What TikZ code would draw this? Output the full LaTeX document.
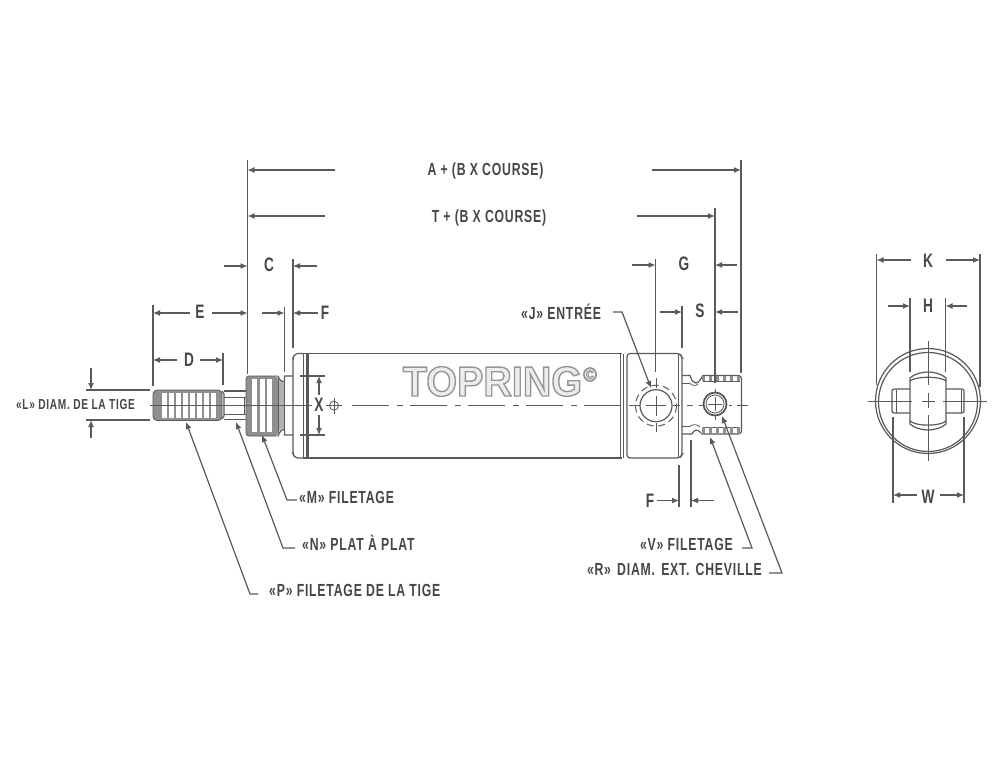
\documentclass[tikz,border=0pt]{standalone}
\usepackage{fontspec}
\usetikzlibrary{arrows.meta}
\newfontfamily\labfamily[FakeStretch=0.70,LetterSpace=4.5,BoldFont={Liberation Sans Bold}]{Liberation Sans}
\newfontfamily\logofamily[FakeStretch=0.94,BoldFont={Liberation Sans Bold}]{Liberation Sans}
\definecolor{ink}{HTML}{5A5A5C}
\definecolor{txt}{HTML}{47474A}
\definecolor{thr}{HTML}{8F8F91}
\definecolor{logofill}{HTML}{ECEDED}
\newcommand{\logotext}[2]{{\color{logofill}\special{pdf:code 2 Tr #1 w 0.58 0.59 0.60 RG}#2\special{pdf:code 0 Tr}}}
\tikzset{
  lab/.style={font=\labfamily\bfseries\fontsize{17.5}{19}\selectfont, text=txt, inner sep=0pt},
  smalllab/.style={font=\labfamily\bfseries\fontsize{14.5}{16}\selectfont, text=txt, inner sep=0pt},
  letter/.style={font=\labfamily\bfseries\fontsize{19.5}{21}\selectfont, text=txt, inner sep=0pt},
  ln/.style={draw=ink, line width=1.2pt},
  thin line/.style={draw=ink, line width=.8pt},
  ext/.style={draw=ink, line width=1.2pt},
  dimarrow/.style={draw=ink, line width=1.2pt, -{Latex[length=7pt,width=6pt]}},
  leader/.style={draw=ink, line width=1.2pt, -{Latex[length=7pt,width=6pt]}},
  center line/.style={draw=ink, line width=1pt},
  centre dash/.style={draw=ink, line width=1.2pt, dash pattern=on 37pt off 8pt on 6pt off 7pt},
}
\newcommand{\dimA}[3]{\coordinate (#1s) at #2;\coordinate (#1e) at #3;\draw[dimarrow] (#1s) -- (#1e);}
\newcommand{\extL}[3]{\coordinate (#1s) at #2;\coordinate (#1e) at #3;\draw[ext] (#1s) -- (#1e);}
\begin{document}
\begin{tikzpicture}[x=1pt,y=-1pt]
\useasboundingbox (0,0) rectangle (1000,762);
\fill[white] (0,0) rectangle (1000,762);

% ---------- rod thread
\fill[thr,rounded corners=4pt] (153,390) rectangle (222,420.5);
\foreach \x in {162,169,176,183,190,197,204,211}
  \fill[white] (\x,393) rectangle ++(4.5,24.5);
\draw[thin line,rounded corners=4pt] (153,390) rectangle (222,420.5);
% flats
\draw[ln] (222,391) -- (224,394) -- (224,416) -- (222,419);
\draw[ln] (224,391) -- (246,391) (224,419.5) -- (246,419.5);
\draw[thin line] (224,397) -- (246,397) (224,414) -- (246,414) (244.5,397) -- (244.5,414);
% gland thread
\fill[thr,rounded corners=3pt] (246,376) rectangle (278,436);
\foreach \x in {252,259.5,267}
  \fill[white] (\x,379) rectangle ++(5,53);
\fill[thr!70] (278,380) -- (284,383) -- (284,428) -- (278,431) -- cycle;
\draw[thin line,rounded corners=3pt] (278,376) -- (246,376) -- (246,436) -- (278,436);
\draw[ln] (278,376) .. controls (280,381) and (282,382) .. (284.5,382) -- (284.5,376) -- (293,376);
\draw[ln] (278,436) .. controls (280,431) and (282,429) .. (284.5,429) -- (284.5,435) -- (293,435);
\draw[thin line] (284.5,382) -- (284.5,429);
\draw[thin line] (278,379) -- (278,433);
% flange
\draw[ln,rounded corners=3pt] (303,353.5) -- (295,353.5) -- (293,358) -- (293,454) -- (295,458) -- (303,458);
\draw[thin line] (303.5,353.5) -- (303.5,458) (306,354) -- (306,458);
\draw[ln] (308,354) -- (308,458);
% barrel
\draw[ln] (303,353.5) -- (622,353.5) (303,458) -- (622,458);
% grooves & cap
\draw[thin line] (620.5,354) -- (620.5,458) (623.5,354) -- (623.5,458);
\draw[ln,rounded corners=3pt] (627,458) -- (627,353.5) -- (680,353.5) -- (682,357) -- (682,455) -- (680,458) -- cycle;
\draw[thin line] (678.5,354) -- (678.5,458);
% clevis
\draw[ln] (682,375.5) -- (690,375.5) .. controls (692,381) and (693,383) .. (696,383) .. controls (699,383) and (701,378) .. (703,375.5);
\draw[thin line] (682,383.5) -- (690,383.5) .. controls (692,386) and (697,386) .. (698,384);
\draw[ln] (682,434) -- (692,434) .. controls (694,430) and (697,428) .. (701,433) ;
\draw[thin line] (682,426.5) -- (690,426.5) .. controls (692,424) and (697,424) .. (700,427);
\draw[ln,rounded corners=3pt] (703,375.5) -- (741.5,375.5) -- (741.5,434) -- (701,434);
\draw[thin line] (703,381) -- (740,381) (703,427) -- (740,427);
\foreach \x in {702,709,716,723,730,737} {
  \fill[thr] (\x,376) rectangle ++(2.5,5);
  \fill[thr] (\x,427) rectangle ++(2.5,6.5);
}
% port
\draw[ln] (656,405.7) circle (16);
\draw[draw=ink,line width=1pt,dash pattern=on 7pt off 4.5pt] (656,405.7) circle (20.5);
\draw[center line] (646,405.7) -- (666,405.7) (656,396) -- (656,416);
\draw[center line] (656,378) -- (656,388) (656,423) -- (656,432) (630,405.7) -- (640,405.7);
% pin
\draw[draw=ink,line width=1.8pt] (715,404) circle (11.5);
\draw[thin line] (715,404) circle (9);
\draw[center line] (708,404) -- (722,404) (715,397) -- (715,411) (715,389) -- (715,393) (715,415) -- (715,420);
% centre lines
\coordinate (cl1) at (150,405.5); \coordinate (cl2) at (312,405.5);
\coordinate (cl3) at (352,405.5); \coordinate (cl4) at (630,405.5);
\draw[center line] (cl1) -- (cl2);
\draw[centre dash] (cl3) -- (cl4);
\draw[center line] (673,405) -- (680,405) (687,405) -- (693,405) (699,405) -- (704,405) (729,405) -- (732,405) (737,405) -- (748,405);

% ---------- logo
\node[inner sep=0pt,anchor=center] (logo) at (492.5,381.5) {\logofamily\bfseries\fontsize{42}{42}\selectfont\logotext{1.4}{TOPRING}};
\node[inner sep=0pt] (logoc) at (590,374.5) {\logofamily\bfseries\fontsize{20}{20}\selectfont\logotext{.8}{©}};

% ---------- extension lines
\extL{xa}{(247.5,160)}{(247.5,374)}
\extL{xb}{(741,160)}{(741,373)}
\extL{xc}{(715,208)}{(715,383)}
\extL{xd}{(293,259)}{(293,348)}
\extL{xe}{(284.5,307)}{(284.5,372)}
\extL{xf}{(153,305)}{(153,386)}
\extL{xg}{(223,353)}{(223,385)}
\extL{xh}{(655.5,259)}{(655.5,372)}
\extL{xi}{(682,306)}{(682,348)}
\extL{xj}{(679,465)}{(679,507)}
\extL{xk}{(691,440)}{(691,507)}
\extL{xl}{(86,390)}{(150,390)}
\extL{xm}{(86,420)}{(150,420)}
\extL{xn}{(300,376)}{(325,376)}
\extL{xo}{(300,435)}{(325,435)}
\extL{xp}{(876.5,254)}{(876.5,385)}
\extL{xq}{(980,254)}{(980,387)}
\extL{xr}{(910,298)}{(910,372)}
\extL{xs}{(945.5,298)}{(945.5,372)}
\extL{xt}{(893,417)}{(893,503)}
\extL{xu}{(964,417)}{(964,503)}

% ---------- dimension arrows
\dimA{a1}{(335,170)}{(247.5,170)}
\dimA{a2}{(652,170)}{(741,170)}
\dimA{t1}{(325,216)}{(247.5,216)}
\dimA{t2}{(637,216)}{(715,216)}
\dimA{c1}{(224,266)}{(247.5,266)}
\dimA{c2}{(317,266)}{(293,266)}
\dimA{e1}{(190,313)}{(153,313)}
\dimA{e2}{(212,313)}{(247.5,313)}
\dimA{f1}{(262,313)}{(284.5,313)}
\dimA{f2}{(318,313)}{(293,313)}
\dimA{d1}{(177,360)}{(153,360)}
\dimA{d2}{(200,360)}{(223,360)}
\dimA{l1}{(91,368)}{(91,390)}
\dimA{l2}{(91,438)}{(91,420)}
\dimA{x1}{(319,395)}{(319,376)}
\dimA{x2}{(319,415)}{(319,435)}
\dimA{g1}{(632,265)}{(655.5,265)}
\dimA{g2}{(737,265)}{(715,265)}
\dimA{s1}{(660,312)}{(682,312)}
\dimA{s2}{(738,312)}{(715,312)}
\dimA{b1}{(657,500.5)}{(679,500.5)}
\dimA{b2}{(714,500.5)}{(691,500.5)}
\dimA{k1}{(911,260)}{(876.5,260)}
\dimA{k2}{(946,260)}{(980,260)}
\dimA{h1}{(888,306)}{(910,306)}
\dimA{h2}{(967,306)}{(945.5,306)}
\dimA{w1}{(917,495)}{(893,495)}
\dimA{w2}{(940,495)}{(964,495)}

% ---------- X symbol
\draw[thin line] (334,405.7) circle (4.5);
\draw[thin line] (326,405.7) -- (342,405.7) (334,398) -- (334,414);

% ---------- end view
\draw[ln] (928,401) circle (52.5);
\draw[ln] (928,402) circle (49.5);
\draw[ln,fill=white] (910,378) .. controls (914,374) and (922,372) .. (928,372) .. controls (934,372) and (942,374) .. (946,378) -- (946,424) .. controls (942,428) and (934,430) .. (928,430) .. controls (922,430) and (914,428) .. (910,424) -- cycle;
\draw[ln] (910,381) .. controls (916,376) and (940,376) .. (946,381);
\draw[ln] (910,421) .. controls (916,426.5) and (940,426.5) .. (946,421);
\draw[ln,rounded corners=2pt] (910,389) -- (892,389) -- (892,413) -- (910,413);
\draw[thin line] (896,389.5) -- (896,412.5);
\draw[ln,rounded corners=2pt] (946,389) -- (964,389) -- (964,413) -- (946,413);
\draw[thin line] (961,389.5) -- (961,412.5);
\draw[center line] (868,401) -- (912,401) (922,401) -- (935,401) (943,401) -- (987,401);
\draw[center line] (928,341) -- (928,385) (928,393) -- (928,408) (928,415) -- (928,461);

% ---------- leaders
\coordinate (jh) at (613,312); \coordinate (je) at (622,312); \coordinate (jt) at (651,388);
\draw[leader] (jh) -- (je) -- (jt);
\coordinate (mh) at (297,500); \coordinate (me) at (287,500); \coordinate (mt) at (262,435);
\draw[leader] (mh) -- (me) -- (mt);
\coordinate (nh) at (295,548); \coordinate (ne) at (283,548); \coordinate (nt) at (236,422);
\draw[leader] (nh) -- (ne) -- (nt);
\coordinate (ph) at (258,594); \coordinate (pe) at (250,594); \coordinate (pt) at (186,422);
\draw[leader] (ph) -- (pe) -- (pt);
\coordinate (vh) at (742,548); \coordinate (ve) at (752,548); \coordinate (vt) at (710,437);
\draw[leader] (vh) -- (ve) -- (vt);
\coordinate (rh) at (769,573); \coordinate (re) at (782,573); \coordinate (rt) at (722,416);
\draw[leader] (rh) -- (re) -- (rt);

% ---------- labels
\node[lab] (ta) at (485.5,171) {A + (B X COURSE)};
\node[lab] (tt) at (489,218) {T + (B X COURSE)};
\node[letter] (tc) at (269,265) {C};
\node[letter] (tf) at (325,313) {F};
\node[letter] (te) at (200,312) {E};
\node[letter] (td) at (189,360) {D};
\node[letter] (tx) at (319,405) {X};
\node[letter] (tg) at (684,264) {G};
\node[letter] (ts) at (700,311) {S};
\node[letter] (tb) at (650,501) {F};
\node[letter] (tk) at (928,261) {K};
\node[letter] (th) at (928,306) {H};
\node[letter] (tw) at (928,497) {W};
\node[lab,anchor=west] (tj) at (521,312) {«J» ENTRÉE};
\node[smalllab,anchor=west] (tl) at (16,405) {«L» DIAM. DE LA TIGE};
\node[lab,anchor=west] (tm) at (299,497) {«M» FILETAGE};
\node[lab,anchor=west] (tn) at (302,543) {«N» PLAT À PLAT};
\node[lab,anchor=west] (tp) at (269,590) {«P» FILETAGE DE LA TIGE};
\node[lab,anchor=east] (tv) at (733,544) {«V» FILETAGE};
\node[lab,anchor=east] (tr) at (762,569) {«R»\hspace{2pt} DIAM.\hspace{2pt} EXT.\hspace{2pt} CHEVILLE};
\end{tikzpicture}
\end{document}
